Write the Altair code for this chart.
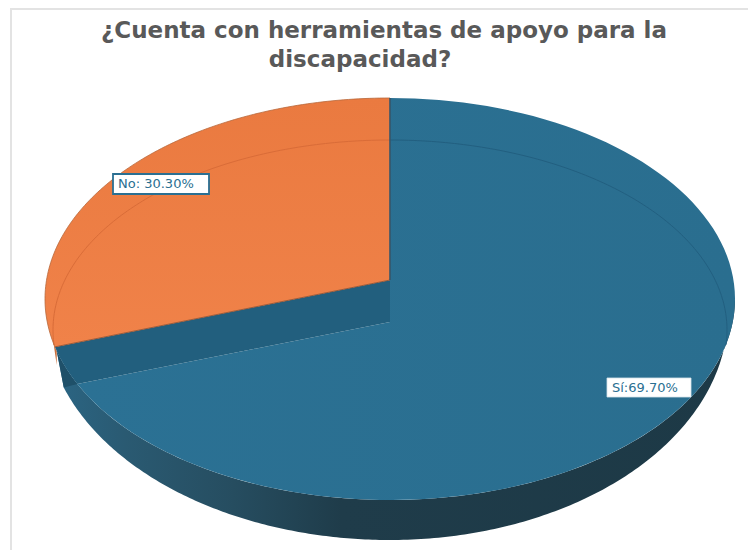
import math
import altair as alt
import pandas as pd

categories = ["Sí", "No"]
shares = [69.70, 30.30]
label_texts = ["Sí:69.70%", "No: 30.30%"]
title_lines = ["¿Cuenta con herramientas de apoyo para la", "discapacidad?"]

OFF = 8                                    # page margin: page pixels -> view pixels
W, H = 740, 542
CX, CY, A, B = 390, 299, 345, 201          # top face ellipse
RY, RB, RA_RIGHT = 314, 226, 338           # lower rim ellipse
IY, IA, IB = 330, 337, 190                 # faint inner ring
BLUE_APEX, ORANGE_APEX = 322, 280
GAP_B, GAP_O = 5.9, 5.3

split = shares[0] / sum(shares) * 360
blue_end = split - GAP_B
orange_start = split + GAP_O
rim_top_end = orange_start - 1.2
rim_low_end = orange_start - 5.2

PROJ = dict(type="identity", scale=1, translate=[0, 0])


def pt(t, cy=CY, a=A, b=B):
    r = math.radians(t)
    return [CX + a * math.sin(r) - OFF, cy - b * math.cos(r) - OFF]


def arc(t0, t1, cy=CY, a=A, b=B, n=120):
    return [pt(t0 + (t1 - t0) * i / n, cy, a, b) for i in range(n + 1)]


def apex(y):
    return [CX - OFF, y - OFF]


def poly(coords, **style):
    ring = coords + [coords[0]]
    feat = {"type": "Feature", "properties": {}, "geometry": {"type": "Polygon", "coordinates": [ring]}}
    return alt.Chart(alt.Data(values=[feat])).mark_geoshape(**style).project(**PROJ)


def path(coords, color, width):
    feat = {"type": "Feature", "properties": {}, "geometry": {"type": "LineString", "coordinates": coords}}
    return alt.Chart(alt.Data(values=[feat])).mark_geoshape(
        filled=False, stroke=color, strokeWidth=width
    ).project(**PROJ)


def grad(stops, x1=0, y1=0, x2=1, y2=0):
    return alt.Gradient(
        gradient="linear", x1=x1, y1=y1, x2=x2, y2=y2,
        stops=[alt.GradientStop(offset=o, color=c) for o, c in stops],
    )


def text(x, y, s, **style):
    df = pd.DataFrame({"t": [s]})
    return alt.Chart(df).mark_text(**style).encode(
        x=alt.value(x - OFF), y=alt.value(y - OFF), text="t:N"
    )


def box(x0, y0, x1, y1, stroke, sw):
    df = pd.DataFrame({"t": [0]})
    return alt.Chart(df).mark_rect(fill="white", stroke=stroke, strokeWidth=sw).encode(
        x=alt.value(x0 - OFF), x2=alt.value(x1 - OFF), y=alt.value(y0 - OFF), y2=alt.value(y1 - OFF)
    )


layers = []
# chart frame
layers.append(path([[3, H], [3, 1], [W, 1]], "#e3e3e3", 2))
# rim: thin orange sliver, then the blue side wall
layers.append(poly(arc(rim_top_end, orange_start + 1) + [pt(rim_top_end, CY + 14)], fill="#c9703c"))
layers.append(poly(arc(90, rim_top_end) + arc(rim_low_end, 180, RY, A, RB) + arc(180, 90, RY, RA_RIGHT, RB),
                   fill=grad([(0, "#2b6583"), (0.1, "#2a5a72"), (0.26, "#264d60"), (0.42, "#1f3c4a"), (1, "#1d3946")])))
layers.append(poly(arc(blue_end, rim_top_end) + [pt(rim_low_end, RY, A, RB)], fill="#1f5069"))
# top faces
layers.append(poly([apex(BLUE_APEX)] + arc(0, blue_end), fill=grad([(0, "#2b7194"), (1, "#2a6e8f")])))
layers.append(poly([apex(ORANGE_APEX), apex(BLUE_APEX)] + arc(blue_end, orange_start), fill="#225f7e"))
layers.append(poly([apex(ORANGE_APEX)] + arc(orange_start, 360),
                   fill=grad([(0, "#f08249"), (1, "#ea7a40")], x1=0, y1=1, x2=0, y2=0)))
# faint inner ring
layers.append(path(arc(265.5, 360, IY, IA, IB), "#d96c38", 1))
layers.append(path(arc(0, 94.5, IY, IA, IB), "#225f80", 1))
# edges
layers.append(path(arc(orange_start, 360), "#b8673a", 0.8))
layers.append(path([pt(orange_start), apex(ORANGE_APEX)], "#9a5a3a", 1))
layers.append(path([apex(ORANGE_APEX), [CX - OFF, CY - B - OFF]], "#37566a", 1.6))
# title
TITLE = dict(font="DejaVu Sans", fontWeight="bold", fontSize=23, color="#595959", align="center", baseline="alphabetic")
layers.append(text(384, 38, title_lines[0], **TITLE))
layers.append(text(360, 67, title_lines[1], **TITLE))
# labels
LABEL = dict(font="DejaVu Sans", fontSize=13, color="#2a6f92", align="left", baseline="middle")
layers.append(box(113, 174, 209, 194, "#2a6f92", 1.8))
layers.append(text(118, 184, label_texts[1], **LABEL))
layers.append(box(607, 378, 691, 397, "#d5e3ea", 0.8))
layers.append(text(612, 388, label_texts[0], **LABEL))

chart = alt.layer(*layers).properties(
    width=W, height=H, padding=0, autosize=alt.AutoSizeParams(type="none"), background="white"
).configure_view(stroke=None)

chart.save("out.html", embed_options={"renderer": "svg", "actions": False})
